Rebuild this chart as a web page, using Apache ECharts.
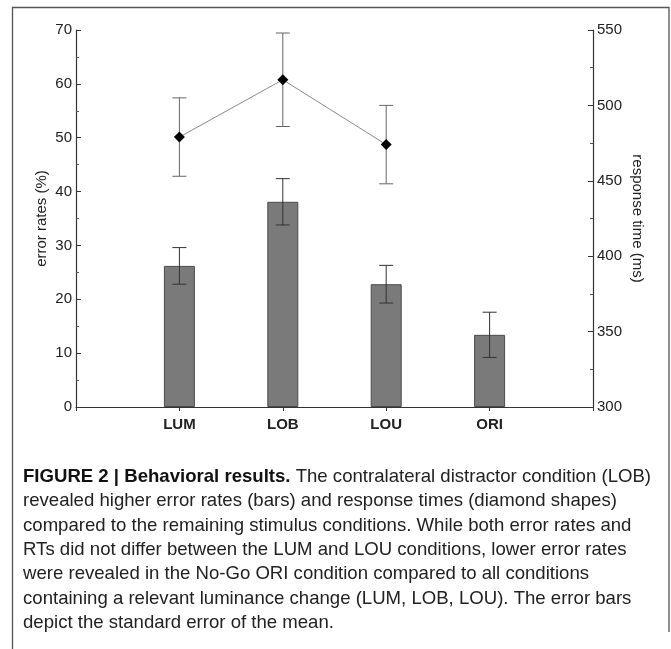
<!DOCTYPE html>
<html>
<head>
<meta charset="utf-8">
<script src="https://cdn.jsdelivr.net/npm/echarts@6/dist/echarts.min.js"></script>
<style>
html, body { margin: 0; padding: 0; background: #fff; }
#chart { width: 671px; height: 649px; }
</style>
</head>
<body>
<div id="chart"></div>
<script>
// conditions on the x axis
var categories = ['LUM', 'LOB', 'LOU', 'ORI'];
// error rates in % (bars) and their standard errors
var errorRates = [26.2, 38.1, 22.8, 13.4];
var errorRatesSE = [3.4, 4.3, 3.5, 4.2];
// response times in ms (diamonds), ORI has none (No-Go)
var rtCategories = ['LUM', 'LOB', 'LOU'];
var responseTimes = [479, 517, 474];
var responseTimesSE = [26, 31, 26];

var captionLines = [
    'revealed higher error rates (bars) and response times (diamond shapes)',
    'compared to the remaining stimulus conditions. While both error rates and',
    'RTs did not differ between the LUM and LOU conditions, lower error rates',
    'were revealed in the No-Go ORI condition compared to all conditions',
    'containing a relevant luminance change (LUM, LOB, LOU). The error bars',
    'depict the standard error of the mean.'
];

var FONT = '"Liberation Sans", Arial, Helvetica, sans-serif';

function xPos(name)
{
    return categories.indexOf(name) + 1;
}

var barData = categories.map(function (c, i) { return [xPos(c), errorRates[i]]; });
var barErr = categories.map(function (c, i) { return [xPos(c), errorRates[i] - errorRatesSE[i], errorRates[i] + errorRatesSE[i]]; });
var rtData = rtCategories.map(function (c, i) { return [xPos(c), responseTimes[i]]; });
var rtErr = rtCategories.map(function (c, i) { return [xPos(c), responseTimes[i] - responseTimesSE[i], responseTimes[i] + responseTimesSE[i]]; });

function errorBarRenderer(color)
{
    return function (params, api) {
        var lo = api.coord([api.value(0), api.value(1)]);
        var hi = api.coord([api.value(0), api.value(2)]);
        var cap = 7;
        var st = { stroke: color, lineWidth: 1 };
        return {
            type: 'group',
            children: [
                { type: 'line', shape: { x1: lo[0], y1: lo[1], x2: hi[0], y2: hi[1] }, style: st },
                { type: 'line', shape: { x1: lo[0] - cap, y1: lo[1], x2: lo[0] + cap, y2: lo[1] }, style: st },
                { type: 'line', shape: { x1: hi[0] - cap, y1: hi[1], x2: hi[0] + cap, y2: hi[1] }, style: st }
            ]
        };
    };
}

// caption: squeeze the font horizontally so line one fits the frame like in the figure
var capSize = 19;
var ctx = document.createElement('canvas').getContext('2d');
ctx.font = 'bold ' + capSize + 'px ' + FONT;
var w1 = ctx.measureText('FIGURE 2 | Behavioral results.').width;
ctx.font = capSize + 'px ' + FONT;
w1 += ctx.measureText(' The contralateral distractor condition (LOB)').width;
var squeeze = 628 / w1;

var graphics = [
    { type: 'polyline', shape: { points: [[12.5, 649], [12.5, 7.5], [669, 7.5], [669, 632]] }, style: { stroke: '#555', lineWidth: 1.3, fill: null } },
    { type: 'text', left: 23, top: 467, scaleX: squeeze, originX: 0,
      style: { text: '{b|FIGURE 2 | Behavioral results.} The contralateral distractor condition (LOB)', fontSize: capSize, fontFamily: FONT, fill: '#222',
               rich: { b: { fontWeight: 'bold', fontSize: capSize, fontFamily: FONT, fill: '#111' } } } }
];
captionLines.forEach(function (line, i) {
    graphics.push({ type: 'text', left: 23, top: 491.5 + i * 24.4, scaleX: squeeze, originX: 0,
        style: { text: line, fontSize: capSize, fontFamily: FONT, fill: '#222' } });
});

var chart = echarts.init(document.getElementById('chart'));

var option = {
    animation: false,
    backgroundColor: '#fff',
    grid: { left: 76, right: 78, top: 30, bottom: 242 },
    xAxis: {
        type: 'value', min: 0, max: 5, interval: 1,
        splitLine: { show: false },
        axisLine: { lineStyle: { color: '#333', width: 1.2 } },
        axisTick: { show: true, inside: false, length: 4, lineStyle: { color: '#333' } },
        axisLabel: { margin: 10, fontSize: 15, fontWeight: 'bold', fontFamily: FONT, color: '#222',
            formatter: function (v) { return categories[v - 1] || ''; } }
    },
    yAxis: [
        {
            type: 'value', min: 0, max: 70, interval: 10, position: 'left',
            name: 'error rates (%)', nameLocation: 'middle', nameGap: 27, nameMoveOverlap: false,
            nameTextStyle: { fontSize: 15, fontFamily: FONT, color: '#222' },
            splitLine: { show: false },
            axisLine: { show: true, lineStyle: { color: '#333', width: 1.2 } },
            axisTick: { show: true, inside: true, length: 5, lineStyle: { color: '#333' } },
            minorTick: { show: true, splitNumber: 2, length: 3, lineStyle: { color: '#555' } },
            axisLabel: { margin: 4, fontSize: 15, fontFamily: FONT, color: '#222' }
        },
        {
            type: 'value', min: 300, max: 550, interval: 50, position: 'right',
            name: 'response time (ms)', nameLocation: 'middle', nameGap: 37, nameRotate: -90, nameMoveOverlap: false,
            nameTextStyle: { fontSize: 15, fontFamily: FONT, color: '#222' },
            splitLine: { show: false },
            axisLine: { show: true, lineStyle: { color: '#333', width: 1.2 } },
            axisTick: { show: true, inside: true, length: 5, lineStyle: { color: '#333' } },
            minorTick: { show: true, splitNumber: 2, length: 3, lineStyle: { color: '#555' } },
            axisLabel: { margin: 4, fontSize: 15, fontFamily: FONT, color: '#222' }
        }
    ],
    series: [
        { type: 'bar', name: 'error rates', yAxisIndex: 0, data: barData, barWidth: 31,
          itemStyle: { color: '#7a7a7a', borderColor: '#4a4a4a', borderWidth: 1 } },
        { type: 'custom', yAxisIndex: 0, data: barErr, renderItem: errorBarRenderer('#333'), z: 5 },
        { type: 'custom', yAxisIndex: 1, data: rtErr, renderItem: errorBarRenderer('#666'), z: 5 },
        { type: 'line', name: 'response time', yAxisIndex: 1, data: rtData,
          symbol: 'diamond', symbolSize: 11, z: 6,
          lineStyle: { color: '#8a8a8a', width: 1 },
          itemStyle: { color: '#000' } }
    ],
    graphic: graphics
};

chart.setOption(option);
</script>
</body>
</html>
